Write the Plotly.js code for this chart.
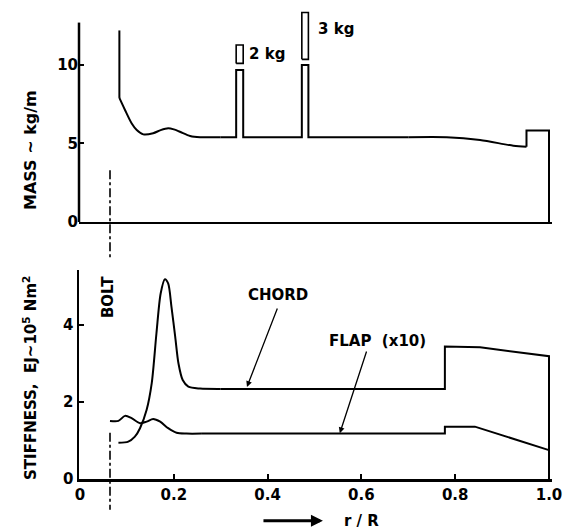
<!DOCTYPE html>
<html>
<head>
<meta charset="utf-8">
<script src="https://cdn.plot.ly/plotly-3.0.1.min.js"></script>
<style>html,body{margin:0;padding:0;background:#fff;}#chart{width:563px;height:529px;}</style>
</head>
<body>
<div id="chart"></div>
<script>
// ---- Mass distribution (kg/m) vs r/R, in segments (curved parts are smoothed) ----
const massRootR = [0.084, 0.084];
const massRootM = [12.2, 7.9];
const massCurveR = [0.084, 0.096, 0.110, 0.121, 0.135, 0.156, 0.172, 0.188, 0.200, 0.213, 0.235, 0.256, 0.300];
const massCurveM = [7.9, 7.13, 6.29, 5.86, 5.58, 5.65, 5.85, 5.97, 5.9, 5.75, 5.48, 5.4, 5.4];
const massMidR = [0.300, 0.333, 0.333, 0.348, 0.348, 0.473, 0.473, 0.487, 0.487, 0.700];
const massMidM = [5.4, 5.4, 9.68, 9.68, 5.4, 5.4, 10.0, 10.0, 5.4, 5.4];
const massTaperR = [0.700, 0.782, 0.853, 0.924, 0.952];
const massTaperM = [5.4, 5.4, 5.22, 4.86, 4.8];
const massTipR = [0.952, 0.952, 1.0, 1.0];
const massTipM = [4.8, 5.82, 5.82, 0];
// concentrated masses (boxes)
const box2R = [0.333, 0.348, 0.348, 0.333, 0.333];
const box2M = [10.1, 10.1, 11.27, 11.27, 10.1];
const box3R = [0.473, 0.487, 0.487, 0.473, 0.473];
const box3M = [10.36, 10.36, 13.34, 13.34, 10.36];

// ---- Stiffness (EJ ~ 1e5 Nm^2) vs r/R ----
const chordCurveR = [0.082, 0.103, 0.117, 0.128, 0.142, 0.153, 0.163, 0.172, 0.181, 0.188, 0.195, 0.203, 0.210, 0.219, 0.231, 0.256, 0.300];
const chordCurveEJ = [0.94, 0.97, 1.10, 1.32, 1.79, 2.49, 3.78, 4.82, 5.19, 5.08, 4.48, 3.70, 3.0, 2.57, 2.40, 2.35, 2.34];
const chordOuterR = [0.300, 0.778, 0.778, 0.853, 1.0, 1.0];
const chordOuterEJ = [2.34, 2.34, 3.44, 3.42, 3.19, 0];
const flapCurveR = [0.064, 0.082, 0.096, 0.110, 0.128, 0.142, 0.156, 0.171, 0.188, 0.206, 0.227, 0.260];
const flapCurveEJ = [1.51, 1.51, 1.64, 1.58, 1.45, 1.49, 1.56, 1.49, 1.32, 1.20, 1.18, 1.18];
const flapOuterR = [0.260, 0.778, 0.778, 0.842, 1.0, 1.0];
const flapOuterEJ = [1.18, 1.18, 1.36, 1.36, 0.75, 0];

// bolt position and extents (in each panel's units)
const boltR = 0.064;
const boltTopSpan = [3.3, -2.3];
const boltBotSpan = [1.2, -0.8];

// tick labels
const xTickVals = [0, 0.2, 0.4, 0.6, 0.8, 1.0];
const xTickText = ['0', '0.2', '0.4', '0.6', '0.8', '1.0'];
const massTicks = [0, 5, 10];
const stiffTicks = [0, 2, 4];

const xRange = [-0.0021, 1.0064];
const topDomain = [0.5422, 1];
const topRange = [0, 13.82];
const topAxisTop = 12.7;
const botDomain = [0, 0.4409];
const botRange = [0, 5.43];

function topPaper(v) { return topDomain[0] + (v - topRange[0]) / (topRange[1] - topRange[0]) * (topDomain[1] - topDomain[0]); }
function botPaper(v) { return botDomain[0] + (v - botRange[0]) / (botRange[1] - botRange[0]) * (botDomain[1] - botDomain[0]); }
function xDom(v) { return (v - xRange[0]) / (xRange[1] - xRange[0]); }

const FONT = 'DejaVu Sans';
const INK = '#000';

function seg(x, y, ax, smooth, w) {
  const line = {color: INK, width: w || 2};
  if (smooth) { line.shape = 'spline'; line.smoothing = 0.8; }
  return {x: x, y: y, xaxis: ax === 1 ? 'x' : 'x2', yaxis: ax === 1 ? 'y' : 'y2', mode: 'lines', line: line, hoverinfo: 'skip'};
}

const traces = [
  seg(massRootR, massRootM, 1, false),
  seg(massCurveR, massCurveM, 1, true),
  seg(massMidR, massMidM, 1, false),
  seg(massTaperR, massTaperM, 1, true),
  seg(massTipR, massTipM, 1, false),
  seg(box2R, box2M, 1, false, 1.6),
  seg(box3R, box3M, 1, false, 1.6),
  seg(chordCurveR, chordCurveEJ, 2, true),
  seg(chordOuterR, chordOuterEJ, 2, false),
  seg(flapCurveR, flapCurveEJ, 2, true),
  seg(flapOuterR, flapOuterEJ, 2, false)
];

const tickFont = {family: FONT, size: 15, color: INK, weight: 'bold'};
const annFont = {family: FONT, size: 15, color: INK, weight: 'bold'};

const layout = {
  width: 563, height: 529,
  margin: {l: 79, r: 11, t: 5, b: 50},
  paper_bgcolor: '#fff', plot_bgcolor: '#fff',
  showlegend: false,
  font: {family: FONT, color: INK},
  xaxis: {domain: [0, 1], anchor: 'y', range: xRange, showline: true, linecolor: INK, linewidth: 2.5,
          showticklabels: false, ticks: '', showgrid: false, zeroline: false},
  yaxis: {domain: topDomain, anchor: 'x', range: topRange, showline: false, showgrid: false, zeroline: false,
          tickvals: massTicks, ticktext: massTicks.map(String), ticks: 'inside', ticklen: 5, tickwidth: 2, tickcolor: INK,
          tickfont: tickFont},
  xaxis2: {domain: [0, 1], anchor: 'y2', range: xRange, showline: true, linecolor: INK, linewidth: 2.5,
           tickvals: xTickVals, ticktext: xTickText, ticks: 'inside', ticklen: 5, tickwidth: 2, tickcolor: INK,
           tickfont: tickFont, showgrid: false, zeroline: false},
  yaxis2: {domain: botDomain, anchor: 'x2', range: botRange, showline: true, linecolor: INK, linewidth: 2.5,
           tickvals: stiffTicks, ticktext: stiffTicks.map(String), ticks: 'inside', ticklen: 5, tickwidth: 2, tickcolor: INK,
           tickfont: tickFont, showgrid: false, zeroline: false},
  shapes: [
    {type: 'line', xref: 'x domain', yref: 'paper', x0: 0, x1: 0, y0: topPaper(0), y1: topPaper(topAxisTop),
     line: {color: INK, width: 2.5}},
    {type: 'line', xref: 'x domain', yref: 'paper', x0: xDom(boltR), x1: xDom(boltR),
     y0: topPaper(boltTopSpan[0]), y1: topPaper(boltTopSpan[1]), line: {color: INK, width: 1.6, dash: 'dashdot'}},
    {type: 'line', xref: 'x domain', yref: 'paper', x0: xDom(boltR), x1: xDom(boltR),
     y0: botPaper(boltBotSpan[0]), y1: botPaper(boltBotSpan[1]), line: {color: INK, width: 1.6, dash: 'dashdot'}}
  ],
  annotations: [
    {xref: 'paper', yref: 'y', x: -0.101, y: 4.6, text: 'MASS ~ kg/m', textangle: -90, showarrow: false,
     xanchor: 'center', yanchor: 'middle', font: {family: FONT, size: 16, color: INK, weight: 'bold'}},
    {xref: 'paper', yref: 'y2', x: -0.104, y: 2.62, text: 'STIFFNESS,  EJ~10<sup>5</sup> Nm<sup>2</sup>', textangle: -90, showarrow: false,
     xanchor: 'center', yanchor: 'middle', font: {family: FONT, size: 15, color: INK, weight: 'bold'}},
    {xref: 'x', yref: 'y', x: 0.356, y: 10.7, text: '2 kg', showarrow: false, xanchor: 'left', yanchor: 'middle', font: annFont},
    {xref: 'x', yref: 'y', x: 0.503, y: 12.3, text: '3 kg', showarrow: false, xanchor: 'left', yanchor: 'middle', font: annFont},
    {xref: 'x2', yref: 'y2', x: 0.060, y: 4.73, text: 'BOLT', textangle: -90, showarrow: false, xanchor: 'center', yanchor: 'middle', font: annFont},
    {xref: 'x2', yref: 'y2', x: 0.422, y: 4.78, text: 'CHORD', showarrow: false, xanchor: 'center', yanchor: 'middle', font: annFont},
    {xref: 'x2', yref: 'y2', x: 0.635, y: 3.58, text: 'FLAP  (x10)', showarrow: false, xanchor: 'center', yanchor: 'middle', font: annFont},
    {xref: 'x2', yref: 'y2', x: 0.356, y: 2.39, axref: 'x2', ayref: 'y2', ax: 0.422, ay: 4.47, text: '', showarrow: true,
     arrowhead: 2, arrowsize: 0.9, arrowwidth: 1.3, arrowcolor: INK},
    {xref: 'x2', yref: 'y2', x: 0.554, y: 1.19, axref: 'x2', ayref: 'y2', ax: 0.612, ay: 3.35, text: '', showarrow: true,
     arrowhead: 2, arrowsize: 0.9, arrowwidth: 1.3, arrowcolor: INK},
    {xref: 'x2', yref: 'paper', x: 0.518, y: -0.088, axref: 'x2', ayref: 'paper', ax: 0.388, ay: -0.088, text: '', showarrow: true,
     arrowhead: 2, arrowsize: 0.8, arrowwidth: 3, arrowcolor: INK},
    {xref: 'x2', yref: 'paper', x: 0.559, y: -0.088, text: 'r / R', showarrow: false, xanchor: 'left', yanchor: 'middle', font: annFont}
  ]
};

Plotly.newPlot('chart', traces, layout, {staticPlot: true, displayModeBar: false});
</script>
</body>
</html>
